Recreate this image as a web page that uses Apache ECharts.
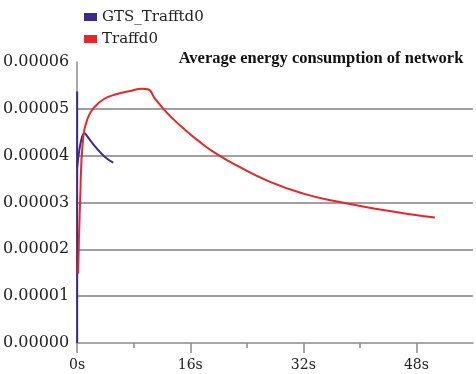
<!DOCTYPE html>
<html>
<head>
<meta charset="utf-8">
<script src="https://cdn.jsdelivr.net/npm/echarts@6/dist/echarts.min.js"></script>
<style>html,body{margin:0;padding:0;background:#fff}#c{width:476px;height:374px}</style>
</head>
<body>
<div id="c"></div>
<script>
var seriesNames = ['GTS_Trafftd0', 'Traffd0'];
var titleText = 'Average energy consumption of network';
var xMajorTicks = [0, 16, 32, 48];
var xMinorTicks = [8, 24, 40];
// GTS_Trafftd0: vertical rise at t=0, then curve
var gtsVertical = [[0, 0], [0, 0.0000537]];
var gtsCurve = [[0, 0.0000375], [0.5, 0.0000428], [1.0, 0.0000448], [1.7, 0.0000436], [2.4, 0.0000422], [3.4, 0.0000405], [4.2, 0.0000394], [5.1, 0.0000385]];
// Traffd0
var traff = [[0.14, 0.0000148], [0.42, 0.0000304], [0.85, 0.0000439], [1.55, 0.0000482], [2.4, 0.0000503], [3.8, 0.0000521], [5.5, 0.0000531], [7.5, 0.0000538], [9.2, 0.0000543], [10.0, 0.0000542], [11.0, 0.0000522], [12.2, 0.0000500], [13.6, 0.0000478], [15.2, 0.0000456], [17.2, 0.0000431], [19.5, 0.0000406], [22.7, 0.0000378], [27.3, 0.0000344], [32.0, 0.0000319], [36.8, 0.0000302], [43.3, 0.0000284], [47.1, 0.0000275], [50.6, 0.0000268]];

var blue = '#3b2a8c', red = '#e8262a';
var chart = echarts.init(document.getElementById('c'));
chart.setOption({
  animation: false,
  backgroundColor: '#fff',
  title: {
    text: titleText, left: 316, top: 45, textAlign: 'center',
    textStyle: {fontFamily: 'Liberation Serif', fontWeight: 'bold', fontSize: 16.5, color: '#111'}
  },
  legend: {
    orient: 'vertical', left: 79, top: 4.5, itemWidth: 13, itemHeight: 8, itemGap: 7,
    icon: 'rect',
    data: [{name: seriesNames[0], itemStyle: {color: blue}}, {name: seriesNames[1], itemStyle: {color: red}}],
    textStyle: {fontFamily: 'DejaVu Serif', fontSize: 15, lineHeight: 15, color: '#222', padding: [0, 0, 0, 0]}
  },
  grid: {left: 76, right: 3, top: 62, bottom: 31, containLabel: false},
  xAxis: [{
    type: 'value', min: 0, max: 56, interval: 8,
    axisLine: {lineStyle: {color: '#8a8a8a', width: 1.5}},
    axisTick: {show: true, customValues: xMajorTicks, length: 10, lineStyle: {color: '#8a8a8a', width: 1.5}},
    axisLabel: {customValues: xMajorTicks, formatter: function (v) { return v + 's'; }, fontFamily: 'DejaVu Serif', fontSize: 14, color: '#222', margin: 15},
    splitLine: {show: false}
  }, {
    type: 'value', min: 0, max: 56, interval: 8, position: 'bottom', offset: 0,
    axisLine: {show: false},
    axisTick: {show: true, customValues: xMinorTicks, length: 5, lineStyle: {color: '#8a8a8a', width: 1.5}},
    axisLabel: {show: false},
    splitLine: {show: false}
  }],
  yAxis: {
    type: 'value', min: 0, max: 0.00006, interval: 0.00001,
    axisLine: {show: true, lineStyle: {color: '#8a8a8a', width: 1.5}},
    axisTick: {show: false},
    axisLabel: {formatter: function (v) { return v.toFixed(5); }, fontFamily: 'DejaVu Serif', fontSize: 16, color: '#222', margin: 8},
    splitLine: {show: true, showMaxLine: false, showMinLine: false, lineStyle: {color: '#a0a0a0', width: 1.8}}
  },
  series: [
    {name: seriesNames[0], type: 'line', data: gtsVertical, showSymbol: false, symbol: 'none', lineStyle: {color: blue, width: 2}, itemStyle: {color: blue}, z: 3},
    {name: seriesNames[0], type: 'line', data: gtsCurve, smooth: 0.4, showSymbol: false, symbol: 'none', lineStyle: {color: blue, width: 2}, itemStyle: {color: blue}, z: 3},
    {name: seriesNames[1], type: 'line', data: traff, smooth: 0.5, showSymbol: false, symbol: 'none', lineStyle: {color: red, width: 2}, itemStyle: {color: red}, z: 4}
  ]
});
</script>
</body>
</html>
